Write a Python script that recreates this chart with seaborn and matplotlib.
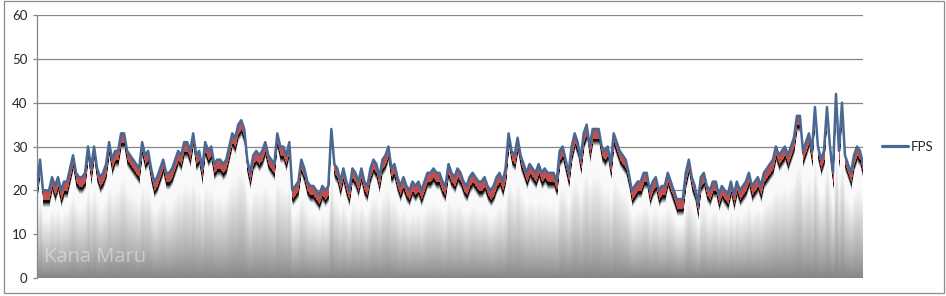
import numpy as np
import pandas as pd
import matplotlib
matplotlib.use("Agg")
import matplotlib.pyplot as plt
from matplotlib.patches import Rectangle
import seaborn as sns

# FPS samples (one value every ~3 px of the plot)
fps = [
    21, 27, 20, 20, 20, 23, 21, 23, 20, 22, 22, 25, 28, 24, 23, 23, 24, 30, 25, 30,
    25, 23, 24, 26, 31, 27, 29, 29, 33, 33, 29, 28, 27, 26, 25, 31, 28, 29, 25, 22,
    23, 25, 27, 24, 24, 25, 27, 29, 28, 31, 31, 29, 33, 28, 29, 25, 31, 29, 30, 26,
    27, 27, 26, 27, 30, 33, 32, 35, 36, 34, 27, 24, 28, 29, 28, 29, 31, 28, 27, 26,
    33, 30, 30, 28, 31, 20, 21, 22, 27, 25, 22, 21, 21, 20, 19, 21, 20, 21, 34, 26,
    25, 22, 25, 22, 20, 25, 24, 22, 25, 22, 21, 25, 27, 26, 23, 27, 28, 30, 25, 26,
    23, 21, 23, 21, 20, 22, 21, 22, 20, 22, 24, 24, 25, 24, 24, 22, 21, 26, 24, 23,
    25, 24, 22, 21, 23, 24, 23, 22, 22, 23, 21, 20, 21, 23, 24, 22, 25, 33, 29, 28,
    32, 28, 26, 24, 26, 25, 24, 26, 24, 25, 24, 24, 24, 22, 29, 30, 27, 24, 30, 33,
    31, 27, 33, 35, 30, 34, 34, 34, 30, 29, 30, 26, 33, 31, 29, 28, 27, 24, 20, 21,
    22, 22, 24, 24, 20, 22, 23, 20, 21, 21, 24, 22, 20, 18, 18, 18, 24, 27, 23, 21,
    17, 23, 24, 21, 20, 22, 22, 19, 21, 20, 19, 22, 19, 22, 20, 21, 22, 24, 21, 22,
    23, 21, 24, 25, 26, 27, 30, 28, 29, 30, 28, 30, 32, 37, 37, 29, 31, 33, 29, 39,
    30, 27, 29, 39, 30, 24, 42, 29, 40, 28, 26, 24, 28, 30, 29, 26,
]
sample = list(range(len(fps)))
series_name = "FPS"
y_ticks = [0, 10, 20, 30, 40, 50, 60]

df = pd.DataFrame({"sample": sample, "fps": fps})

sns.set_theme(style="white")
plt.rcParams["font.family"] = ["Lato", "DejaVu Sans"]

W_PX, H_PX = 946, 296
fig = plt.figure(figsize=(W_PX / 100, H_PX / 100), dpi=100)
fig.patch.set_facecolor("white")
L, R, T, B = 37, 863, 15, 278
ax = fig.add_axes([L / W_PX, 1 - B / H_PX, (R - L) / W_PX, (B - T) / H_PX])

n = len(fps)
ymax_img = 44.0

# gradient fill under the line (rendered per column, clipped to the area)
cols, rows = 1652, 900
xs = np.linspace(0, n - 1, cols)
vv = np.interp(xs, df["sample"], df["fps"])
ys = np.linspace(0, ymax_img, rows)
Yg, Vg = np.meshgrid(ys, vv, indexing="ij")
d = Vg - Yg
rel = np.clip(Yg / Vg, 0, 1)
base = 0.52 + 0.46 * np.clip(rel / 0.7, 0, 1) ** 0.85
img = np.zeros((rows, cols, 4))
for c in range(3):
    img[..., c] = base
img[..., 3] = 1.0
blk = 0.06
r1, r2, r3 = 2.2, 2.75, 3.9
fade = (d >= r2) & (d < r3)
t = np.clip((d - r2) / (r3 - r2), 0, 1) ** 0.8
for c in range(3):
    ch = img[..., c]
    ch[fade] = (blk * (1 - t) + base * t)[fade]
    ch[(d >= r1) & (d < r2)] = blk
red = (0.753, 0.314, 0.302)
for c in range(3):
    img[..., c][d < r1] = red[c]
img[..., 3][d < 0] = 0

im = ax.imshow(img, extent=(0, n - 1, 0, ymax_img), origin="lower",
               aspect="auto", interpolation="nearest", zorder=2)
poly = ax.fill_between(df["sample"], 0, df["fps"], color="none", lw=0, zorder=1)
im.set_clip_path(poly.get_paths()[0], transform=ax.transData)

sns.lineplot(data=df, x="sample", y="fps", color="#4a6894", lw=1.8,
             label=series_name, ax=ax, zorder=4)

ax.set_xlim(0, n - 1)
ax.set_ylim(0, 60)
ax.set_yticks(y_ticks)
ax.set_xticks([])
ax.set_xlabel("")
ax.set_ylabel("")
ax.yaxis.grid(True, color="#868686", lw=0.9)
ax.set_axisbelow(True)
for s in ["top", "right", "bottom"]:
    ax.spines[s].set_visible(False)
ax.spines["left"].set_color("#868686")
ax.spines["left"].set_linewidth(0.9)
ax.tick_params(axis="y", direction="out", length=3, width=0.9, color="#868686",
               labelsize=9.5, labelcolor="#262626", pad=4, left=True)
ax.set_facecolor("white")

leg = ax.legend(loc="center left", bbox_to_anchor=(882 / W_PX, 1 - 147 / H_PX),
                bbox_transform=fig.transFigure, frameon=False, fontsize=9.5,
                handlelength=2.0, handletextpad=0.2, borderpad=0, borderaxespad=0)
for h in leg.get_lines():
    h.set_linewidth(2.3)

fig.text(44 / W_PX, 1 - 257 / H_PX, "Kana Maru", fontsize=14.5, color="white",
         alpha=0.4, va="center", ha="left", family=["Open Sans", "DejaVu Sans"],
         zorder=6)

fig.patches.append(Rectangle((4 / W_PX, 3 / H_PX), 940 / W_PX, 292 / H_PX,
                             transform=fig.transFigure, fill=False,
                             ec="#8c8c8c", lw=0.9))

fig.savefig("out.png", dpi=100)
